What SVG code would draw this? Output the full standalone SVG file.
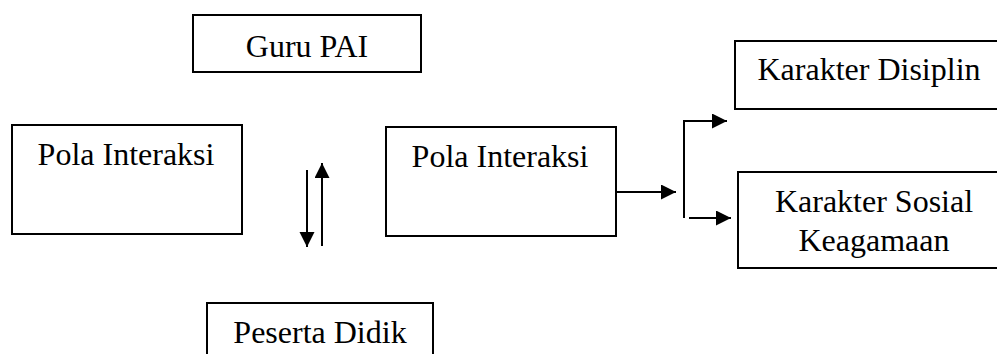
<svg xmlns="http://www.w3.org/2000/svg" width="997" height="354" viewBox="0 0 997 354">
<defs>
<style>
.box{fill:#fff;stroke:#000;stroke-width:2}
.lbl{font-family:"Liberation Serif","Times New Roman",serif;font-size:32px;fill:#000;text-anchor:middle}
.ln{fill:none;stroke:#000;stroke-width:2}
</style>
<marker id="ah" markerUnits="userSpaceOnUse" markerWidth="16" markerHeight="16" refX="15" refY="7.5" orient="auto">
<path d="M0,0 L15,7.5 L0,15 z" fill="#000"/>
</marker>
</defs>
<rect width="997" height="354" fill="#fff"/>
<g id="guru-pai">
<rect class="box" x="193" y="15" width="228" height="57"/>
<text class="lbl" x="307" y="57">Guru PAI</text>
</g>
<g id="pola-interaksi-1">
<rect class="box" x="12" y="125" width="230" height="109"/>
<text class="lbl" x="126" y="165">Pola Interaksi</text>
</g>
<g id="pola-interaksi-2">
<rect class="box" x="386" y="127" width="230" height="109"/>
<text class="lbl" x="500" y="167">Pola Interaksi</text>
</g>
<g id="peserta-didik">
<rect class="box" x="207" y="303" width="226" height="70"/>
<text class="lbl" x="320" y="343">Peserta Didik</text>
</g>
<g id="karakter-disiplin">
<rect class="box" x="735" y="41" width="280" height="68"/>
<text class="lbl" x="869" y="80">Karakter Disiplin</text>
</g>
<g id="karakter-sosial">
<rect class="box" x="738" y="172" width="280" height="96"/>
<text class="lbl" x="874" y="212">Karakter Sosial</text>
<text class="lbl" x="874" y="251">Keagamaan</text>
</g>
<g id="connectors">
<line class="ln" x1="307" y1="170" x2="307" y2="247" marker-end="url(#ah)"/>
<line class="ln" x1="322" y1="246" x2="322" y2="163" marker-end="url(#ah)"/>
<line class="ln" x1="616" y1="192" x2="676" y2="192" marker-end="url(#ah)"/>
<polyline class="ln" points="684,218 684,121 727,121" marker-end="url(#ah)"/>
<line class="ln" x1="689" y1="218" x2="731" y2="218" marker-end="url(#ah)"/>
</g>
</svg>
